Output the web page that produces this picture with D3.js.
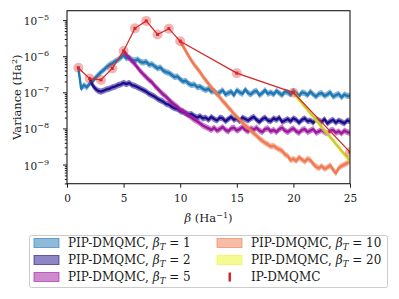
<!DOCTYPE html>
<html>
<head>
<meta charset="utf-8">
<script src="https://cdn.jsdelivr.net/npm/d3@7/dist/d3.min.js"></script>
<style>
  body { margin: 0; background: #fff; }
  text { font-family: "DejaVu Serif", "Liberation Serif", serif; fill: #1a1a1a; }
</style>
</head>
<body>
<div id="chart"></div>
<script>
// IP-DMQMC reference points
var ipBeta = [1, 2, 3, 4, 5, 6, 7, 8, 9, 10, 15, 20, 25];
var ipVar = [4.8e-7, 2.4e-7, 2.2e-7, 4.6e-7, 1.4e-6, 5.9e-6, 9.5e-6, 4.0e-6, 5.8e-6, 2.6e-6, 3.4e-7, 9.8e-8, 2.2e-9];

// PIP-DMQMC curves: log10(variance), sampled every 0.25 in beta from the start value
var betaStep = 0.25;
var startT1 = 1, startT2 = 2, startT5 = 5, startT10 = 10, startT20 = 20;

var logT1 = [
  -6.32, -6.90, -6.80, -6.86, -6.76, -6.70, -6.60, -6.52, -6.44, -6.38, -6.30, -6.24,
  -6.20, -6.14, -6.10, -6.04,
  -5.97, -6.06, -6.03, -6.10, -6.12, -6.09, -6.16, -6.18, -6.15, -6.24, -6.22, -6.28,
  -6.34, -6.31, -6.40, -6.44, -6.46, -6.52, -6.58, -6.56, -6.64, -6.70, -6.68, -6.76,
  -6.80, -6.78, -6.86, -6.84, -6.90, -6.94, -6.90, -6.98,
  -6.96, -7.04, -7.00, -6.94, -7.06, -7.02, -6.98, -7.08, -6.94, -7.00,
  -7.04, -6.92, -7.02, -7.06, -6.98, -6.96, -7.08, -7.02, -6.94, -7.04,
  -7.00, -7.06, -6.96, -7.02, -7.08, -6.98, -7.00, -7.06, -6.96, -7.04,
  -7.10, -7.00, -7.02, -7.08, -6.98, -7.06, -7.12, -7.04, -7.02, -7.10,
  -7.06, -7.00, -7.12, -7.08, -7.04, -7.14, -7.06, -7.10, -7.10
];
var logT2 = [
  -6.62, -6.80, -6.90, -6.96, -6.98, -6.95, -6.92, -6.90, -6.86, -6.84, -6.80, -6.78,
  -6.74,
  -6.77, -6.74, -6.80, -6.82, -6.86, -6.90, -6.94, -6.98, -7.04, -7.08, -7.12, -7.18,
  -7.22, -7.26, -7.32, -7.34, -7.40, -7.44, -7.46, -7.52, -7.54, -7.58, -7.62, -7.60,
  -7.66, -7.70, -7.66, -7.72,
  -7.70, -7.76, -7.68, -7.74, -7.78, -7.70, -7.72, -7.80, -7.74, -7.68,
  -7.76, -7.72, -7.80, -7.70, -7.74, -7.78, -7.72, -7.68, -7.76, -7.82,
  -7.74, -7.70, -7.78, -7.80, -7.72, -7.76, -7.70, -7.82, -7.78, -7.74,
  -7.80, -7.72, -7.76, -7.84, -7.76, -7.72, -7.80, -7.78, -7.84, -7.74,
  -7.78, -7.82, -7.74, -7.86, -7.80, -7.76, -7.84, -7.78, -7.82, -7.86,
  -7.78, -7.80
];
var logT5 = [
  -5.85, -5.96, -6.06, -6.14, -6.22, -6.32, -6.42, -6.50, -6.58, -6.66, -6.72, -6.82,
  -6.90, -6.98, -7.06, -7.12, -7.20, -7.28, -7.34, -7.40, -7.48, -7.52, -7.58, -7.64,
  -7.70, -7.76, -7.80, -7.86, -7.92, -7.96, -8.00,
  -8.04, -7.98, -8.06, -8.02, -7.96, -8.04, -8.08, -8.00, -7.98, -8.06,
  -8.02, -7.96, -8.04, -8.08, -8.00, -8.04, -7.98, -8.06, -8.10, -8.02,
  -8.00, -8.08, -8.04, -8.10, -8.02, -7.98, -8.06, -8.10, -8.04, -8.00,
  -8.08, -8.12, -8.04, -8.02, -8.10, -8.06, -8.02, -8.12, -8.08, -8.04,
  -8.10, -8.14, -8.06, -8.04, -8.12, -8.08, -8.14, -8.06, -8.10, -8.12
];
var logT10 = [
  -5.59, -5.72, -5.86, -6.00, -6.12, -6.24, -6.34, -6.44, -6.56, -6.66,
  -6.76, -6.86, -6.96, -7.04, -7.14, -7.24, -7.32, -7.42, -7.50, -7.60,
  -7.68, -7.76, -7.84, -7.92, -7.98, -8.06, -8.14, -8.20, -8.28, -8.34,
  -8.40, -8.44, -8.50, -8.48, -8.54, -8.58, -8.62, -8.72, -8.76, -8.88,
  -8.84, -8.90, -8.80, -8.86, -8.92, -8.84, -8.88, -8.98, -9.06, -9.10,
  -9.04, -9.12, -9.08, -9.02, -9.14, -9.24, -9.10, -9.04, -9.00, -8.96,
  -8.90
];
var logT20 = [
  -7.01, -7.10, -7.20, -7.29, -7.39, -7.48, -7.58, -7.67, -7.77, -7.86, -7.96, -8.05,
  -8.14, -8.24, -8.33, -8.43, -8.52, -8.62, -8.71, -8.80, -8.90
];

var seriesLabels = ["1", "2", "5", "10", "20"];
var seriesColors = ["#1f77b4", "#1c0d8c", "#9c179e", "#ef7a52", "#eef527"];
var seriesLines = ["#1f77b4", "#1c0d8c", "#9c179e", "#ef7a52", "#c9c840"];
var xTicks = [0, 5, 10, 15, 20, 25];
var yMajor = [-5, -6, -7, -8, -9];

var width = 399, height = 299;
var margin = { top: 10.7, right: 49, bottom: 115.3, left: 67 };
var w = width - margin.left - margin.right;
var h = height - margin.top - margin.bottom;

var svg = d3.select("#chart").append("svg")
    .attr("width", width)
    .attr("height", height);
var g = svg.append("g")
    .attr("transform", "translate(" + margin.left + "," + margin.top + ")");

var xa = d3.scaleLinear().domain([0, 25]).range([0, w]);
var ya = d3.scaleLog().domain([Math.pow(10, -9.53), Math.pow(10, -4.74)]).range([h, 0]);

function toPoints(start, logs) {
    return logs.map(function(v, i) {
        return { b: start + i * betaStep, v: Math.pow(10, v) };
    });
}

var allSeries = [
    toPoints(startT1, logT1),
    toPoints(startT2, logT2),
    toPoints(startT5, logT5),
    toPoints(startT10, logT10),
    toPoints(startT20, logT20)
];

g.append("clipPath").attr("id", "clip")
    .append("rect").attr("width", w).attr("height", h);

var plot = g.append("g").attr("clip-path", "url(#clip)");

// error band around each curve
var band = d3.area()
    .x(function(d) { return xa(d.b); })
    .y0(function(d) { return ya(d.v * 1.22); })
    .y1(function(d) { return ya(d.v / 1.22); });
var line = d3.line()
    .x(function(d) { return xa(d.b); })
    .y(function(d) { return ya(d.v); });

allSeries.forEach(function(s, i) {
    plot.append("path")
        .attr("d", band(s))
        .attr("fill", seriesColors[i])
        .attr("opacity", 0.55);
    plot.append("path")
        .attr("d", line(s))
        .attr("fill", "none")
        .attr("stroke", seriesLines[i])
        .attr("stroke-width", 2.4)
        .attr("stroke-linejoin", "round");
});

// IP-DMQMC
var ipData = ipBeta.map(function(b, i) { return { b: b, v: ipVar[i] }; });
plot.append("path")
    .attr("d", line(ipData))
    .attr("fill", "none")
    .attr("stroke", "#d62728")
    .attr("stroke-width", 1.2);
plot.selectAll(".ipc").data(ipData).enter().append("circle")
    .attr("cx", function(d) { return xa(d.b); })
    .attr("cy", function(d) { return ya(d.v); })
    .attr("r", 5)
    .attr("fill", "#d62728")
    .attr("opacity", 0.35);
plot.selectAll(".ips").data(ipData).enter().append("rect")
    .attr("x", function(d) { return xa(d.b) - 1.5; })
    .attr("y", function(d) { return ya(d.v) - 1.5; })
    .attr("width", 3).attr("height", 3)
    .attr("fill", "#d62728");

// axes
var xAxis = d3.axisBottom(xa).tickValues(xTicks).tickSize(4).tickPadding(7).tickSizeOuter(0);
var gx = g.append("g").attr("transform", "translate(0," + h + ")").call(xAxis);
gx.selectAll("text").style("font-size", "10.5px").style("font-family", "DejaVu Serif");

var minors = [];
for (var e = -10; e <= -5; e++) {
    for (var m = 2; m <= 9; m++) {
        var val = m * Math.pow(10, e);
        if (val >= ya.domain()[0] && val <= ya.domain()[1]) minors.push(val);
    }
}
g.append("g").call(d3.axisLeft(ya).tickValues(minors).tickSize(2.2).tickFormat("").tickSizeOuter(0));
var gy = g.append("g").call(d3.axisLeft(ya).tickValues(yMajor.map(function(p) { return Math.pow(10, p); }))
    .tickSize(4).tickFormat("").tickSizeOuter(0));
g.selectAll(".domain").remove();
g.selectAll(".tick line").attr("stroke", "#1a1a1a");

yMajor.forEach(function(p) {
    var t = g.append("text")
        .attr("x", -18)
        .attr("y", ya(Math.pow(10, p)) + 5)
        .attr("text-anchor", "end")
        .style("font-size", "10.5px");
    t.append("tspan").text("10");
    t.append("tspan").attr("dy", -5).style("font-size", "8px").text("\u2212" + Math.abs(p));
});

g.append("rect")
    .attr("width", w).attr("height", h)
    .attr("fill", "none")
    .attr("stroke", "#1a1a1a")
    .attr("stroke-width", 1.1);

// axis titles
var xt = svg.append("text")
    .attr("x", margin.left + w / 2)
    .attr("y", 222)
    .attr("text-anchor", "middle")
    .style("font-size", "11.5px");
xt.append("tspan").style("font-style", "italic").text("\u03b2");
xt.append("tspan").text(" (Ha");
xt.append("tspan").attr("dy", -4).style("font-size", "8px").text("\u22121");
xt.append("tspan").attr("dy", 4).text(")");

var yt = svg.append("text")
    .attr("transform", "translate(21," + (margin.top + h / 2) + ") rotate(-90)")
    .attr("text-anchor", "middle")
    .style("font-size", "11.5px");
yt.append("tspan").text("Variance (Ha");
yt.append("tspan").attr("dy", -4).style("font-size", "8px").text("2");
yt.append("tspan").attr("dy", 4).text(")");

// legend
var legend = svg.append("g");
legend.append("rect")
    .attr("x", 29.5).attr("y", 235.5)
    .attr("width", 358).attr("height", 52)
    .attr("rx", 2)
    .attr("fill", "#fff")
    .attr("stroke", "#cccccc");

var colX = [34, 217];
var rowY = [243, 260, 277];
seriesLabels.forEach(function(lab, i) {
    var cx = colX[Math.floor(i / 3)], cy = rowY[i % 3];
    legend.append("rect")
        .attr("x", cx).attr("y", cy - 4.5)
        .attr("width", 25).attr("height", 9)
        .attr("fill", seriesColors[i])
        .attr("fill-opacity", 0.5)
        .attr("stroke", seriesColors[i])
        .attr("stroke-opacity", 0.6);
    var t = legend.append("text")
        .attr("x", cx + 34).attr("y", cy + 4)
        .style("font-size", "12px");
    t.append("tspan").text("PIP-DMQMC, ");
    t.append("tspan").style("font-style", "italic").text("\u03b2");
    t.append("tspan").attr("dy", 2.5).style("font-size", "8.5px").style("font-style", "italic").text("T");
    t.append("tspan").attr("dy", -2.5).text(" = " + lab);
});
legend.append("rect")
    .attr("x", colX[1] + 11.5).attr("y", rowY[2] - 4.5)
    .attr("width", 2.5).attr("height", 9)
    .attr("fill", "#d62728");
legend.append("text")
    .attr("x", colX[1] + 34).attr("y", rowY[2] + 4)
    .style("font-size", "12px")
    .text("IP-DMQMC");
</script>
</body>
</html>
